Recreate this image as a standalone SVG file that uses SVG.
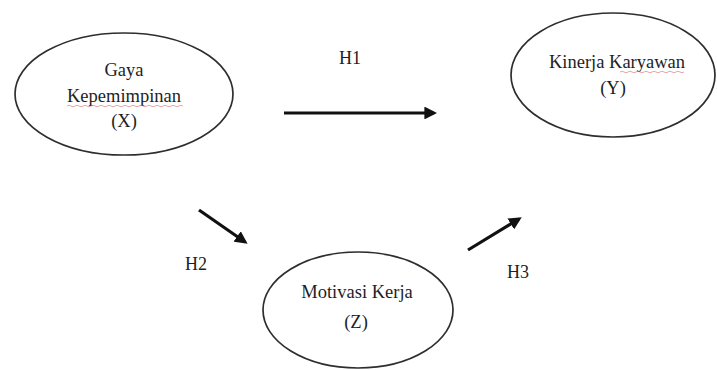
<svg xmlns="http://www.w3.org/2000/svg" width="717" height="370" viewBox="0 0 717 370">
  <style>
    .node ellipse { fill: #ffffff; stroke: #2e2e2e; stroke-width: 1.7; }
    .label { font-family: "Liberation Serif", "Times New Roman", serif; font-size: 18.5px; fill: #1e1e1e; text-anchor: middle; }
    .hyp { font-family: "Liberation Serif", "Times New Roman", serif; font-size: 18px; fill: #1e1e1e; text-anchor: middle; }
    .edge { stroke: #111111; stroke-width: 3.2; fill: none; marker-end: url(#head); }
    .squiggle { stroke: #e08080; stroke-width: 0.9; fill: none; opacity: 0.8; }
  </style>
  <defs>
    <marker id="head" markerWidth="4" markerHeight="4" refX="3" refY="2" orient="auto" markerUnits="strokeWidth">
      <path d="M0,0 L4,2 L0,4 Z" fill="#111111"/>
    </marker>
  </defs>

  <rect width="717" height="370" fill="#ffffff"/>

  <g id="node-x" class="node">
    <ellipse cx="124" cy="94" rx="109" ry="61"/>
    <text class="label" x="124" y="76">Gaya</text>
    <text class="label" x="124" y="102">Kepemimpinan</text>
    <path class="squiggle" d="M67,106 q2,-1.5 4,0 t4,0 t4,0 t4,0 t4,0 t4,0 t4,0 t4,0 t4,0 t4,0 t4,0 t4,0 t4,0 t4,0 t4,0 t4,0 t4,0 t4,0 t4,0 t4,0 t4,0 t4,0 t4,0 t4,0 t4,0 t4,0 t4,0 t4,0 t4,0"/>
    <text class="label" x="124" y="127">(X)</text>
  </g>

  <g id="node-y" class="node">
    <ellipse cx="613" cy="75" rx="102" ry="62"/>
    <text class="label" x="617" y="68">Kinerja Karyawan</text>
    <path class="squiggle" d="M620,72 q2,-1.5 4,0 t4,0 t4,0 t4,0 t4,0 t4,0 t4,0 t4,0 t4,0 t4,0 t4,0 t4,0 t4,0 t4,0 t4,0 t4,0"/>
    <text class="label" x="613" y="94">(Y)</text>
  </g>

  <g id="node-z" class="node">
    <ellipse cx="358" cy="310" rx="95" ry="58"/>
    <text class="label" x="357" y="298">Motivasi Kerja</text>
    <text class="label" x="356" y="328">(Z)</text>
  </g>

  <g id="connectors">
    <line class="edge" x1="284" y1="113" x2="434" y2="113"/>
    <line class="edge" x1="199" y1="210" x2="245" y2="242"/>
    <line class="edge" x1="468" y1="250" x2="519" y2="219"/>
  </g>

  <g id="hypotheses">
    <text class="hyp" x="350" y="64">H1</text>
    <text class="hyp" x="196" y="270">H2</text>
    <text class="hyp" x="518" y="278">H3</text>
  </g>
</svg>
